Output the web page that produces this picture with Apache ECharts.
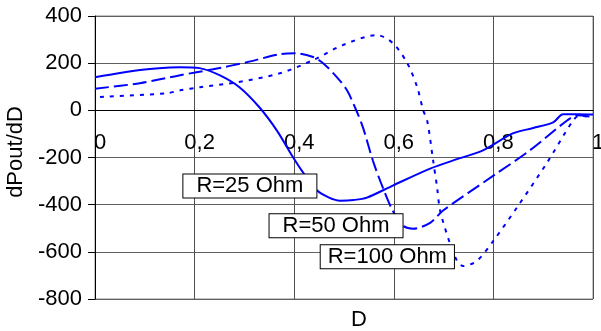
<!DOCTYPE html>
<html>
<head>
<meta charset="utf-8">
<script src="https://cdn.jsdelivr.net/npm/echarts@6/dist/echarts.min.js"></script>
<style>
  html, body { margin: 0; padding: 0; background: #fff; }
  #chart { width: 601px; height: 331px; }
</style>
</head>
<body>
<div id="chart"></div>
<script>
// R = 25 Ohm (solid)
var d25 = [0, 0.05, 0.1, 0.15, 0.17, 0.21, 0.25, 0.29, 0.33, 0.365, 0.398, 0.418, 0.446, 0.47, 0.492, 0.52, 0.546, 0.598, 0.673, 0.73, 0.779, 0.839, 0.88, 0.92, 0.94, 0.97, 1];
var p25 = [140, 158, 173, 182, 183, 179, 149, 98, 13, -85, -200, -264, -340, -370, -383, -380, -370, -319, -247, -205, -170, -98, -75, -51, -17, -17, -18];
// R = 50 Ohm (long dash)
var d50 = [0, 0.09, 0.171, 0.237, 0.305, 0.371, 0.402, 0.438, 0.458, 0.486, 0.506, 0.522, 0.538, 0.558, 0.578, 0.598, 0.618, 0.639, 0.673, 0.699, 0.8, 0.873, 0.948, 0.968, 1];
var p50 = [92, 115, 149, 174, 204, 238, 242, 226, 200, 140, 85, 13, -72, -213, -328, -426, -489, -502, -477, -425, -277, -170, -43, -21, -28];
// R = 100 Ohm (short dash)
var d100 = [0.01, 0.144, 0.171, 0.211, 0.285, 0.371, 0.438, 0.498, 0.566, 0.598, 0.627, 0.647, 0.659, 0.667, 0.679, 0.687, 0.693, 0.713, 0.727, 0.739, 0.767, 0.8, 0.847, 0.908, 0.96, 0.974, 1];
var p100 = [57, 72, 85, 98, 119, 157, 213, 277, 319, 285, 200, 98, 0, -43, -213, -328, -425, -566, -638, -660, -638, -553, -413, -221, -43, -21, -34];

var seriesNames = ['R=25 Ohm', 'R=50 Ohm', 'R=100 Ohm'];
// where the callout boxes sit (data coords)
var labelD = [0.311, 0.484, 0.587];
var labelP = [-321, -489, -621];

var yMin = -800, yMax = 400;
var FONT = "'Liberation Sans', Arial, sans-serif";
var gridH = 283;

function pairs(xs, ys) {
  return xs.map(function (x, i) { return [x, ys[i]]; });
}

function commaFmt(v) {
  return (Math.round(v * 10) / 10).toString().replace('.', ',');
}

var dashes = ['solid', [14, 5], [4, 6]];
var sidePad = [13, 13, 7];
var xs = [d25, d50, d100];
var ys = [p25, p50, p100];

var series = seriesNames.map(function (name, i) {
  return {
    name: name,
    type: 'line',
    data: pairs(xs[i], ys[i]),
    showSymbol: false,
    smooth: 0.3,
    lineStyle: { color: '#0000ff', width: 2, type: dashes[i] },
    markPoint: {
      symbol: 'rect',
      symbolSize: 1,
      itemStyle: { color: 'rgba(0,0,0,0)' },
      label: {
        show: true,
        position: 'inside',
        formatter: name,
        color: '#000',
        fontFamily: FONT,
        fontSize: 22,
        backgroundColor: '#fff',
        borderColor: '#000',
        borderWidth: 1,
        padding: [1, sidePad[i], 0, sidePad[i]]
      },
      data: [{ coord: [labelD[i], labelP[i]] }]
    }
  };
});

var myChart = echarts.init(document.getElementById('chart'));
var option = {
  animation: false,
  backgroundColor: '#fff',
  title: {
    text: 'D',
    left: 351,
    top: 309,
    padding: 0,
    textStyle: { fontFamily: FONT, fontSize: 22, fontWeight: 'normal', color: '#000' }
  },
  grid: {
    left: 95, top: 16, width: 498, height: gridH,
    outerBoundsMode: 'none',
    containLabel: false,
    show: true, borderColor: '#888', borderWidth: 1
  },
  xAxis: {
    type: 'value',
    min: 0, max: 1, interval: 0.2,
    position: 'bottom',
    // put the axis on the zero line of the y scale
    offset: -gridH * (0 - yMin) / (yMax - yMin),
    axisLine: { onZero: false, lineStyle: { color: '#000', width: 1 } },
    axisTick: { show: false },
    axisLabel: {
      color: '#000', fontFamily: FONT, fontSize: 22,
      margin: 22, padding: [0, 0, 0, 10],
      showMaxLabel: true, showMinLabel: true,
      formatter: commaFmt
    },
    splitLine: { show: true, lineStyle: { color: '#505050', width: 1 } }
  },
  yAxis: {
    type: 'value',
    min: yMin, max: yMax, interval: 200,
    name: 'dPout/dD',
    nameLocation: 'middle',
    nameGap: 60,
    nameTextStyle: { color: '#000', fontFamily: FONT, fontSize: 22, padding: [0, 0, 0, 11] },
    axisLine: { show: true, onZero: false, lineStyle: { color: '#000', width: 1 } },
    axisTick: { show: true, length: 7, lineStyle: { color: '#000' } },
    axisLabel: { color: '#000', fontFamily: FONT, fontSize: 22, margin: 13 },
    splitLine: { show: true, lineStyle: { color: '#606060', width: 1 } }
  },
  series: series
};
myChart.setOption(option);
</script>
</body>
</html>
